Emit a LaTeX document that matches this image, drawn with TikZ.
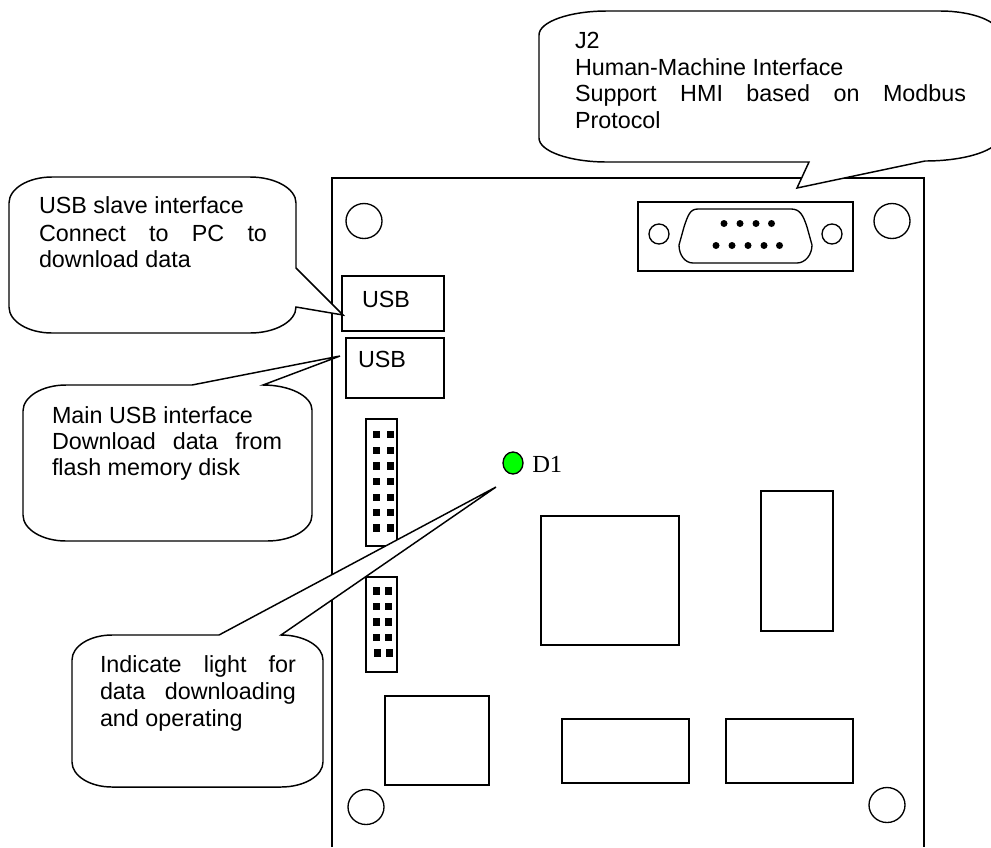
\documentclass[tikz,border=0pt]{standalone}
\usepackage{fontspec}
\setmainfont{Liberation Sans}
\newfontfamily\serifd{Liberation Serif}
\tikzset{x=0.75pt,y=-0.75pt,
 part/.style={draw=black,line width=1pt,fill=white},
 callout/.style={draw=black,line width=1.1pt,fill=white,line join=miter},
 label/.style={anchor=base west,inner sep=0pt,outer sep=0pt,font=\fontsize{17.5}{20}\selectfont},
 pin/.style={fill=black},
}
\newcommand{\jl}[2]{\makebox[#1][s]{#2}}
\newcommand{\pins}[3]{\foreach \yy in {#3} {\fill[pin] (#1-3.5,\yy-3.5) rectangle +(7.5,7.5); \fill[pin] (#2-3.5,\yy-3.5) rectangle +(7.5,7.5);}}
\begin{document}
\begin{tikzpicture}
\useasboundingbox (0,0) rectangle (991,847);
\clip (0,0) rectangle (991,847);
\fill[white] (0,0) rectangle (991,847);
% board
\draw[line width=1.1pt] (332,847) -- (332,178) -- (924,178) -- (924,847);
% mounting holes
\draw[part] (364,221) ellipse [x radius=18,y radius=17.5];
\draw[part] (892,221) ellipse [x radius=18,y radius=17.5];
\draw[part] (366,807) ellipse [x radius=18,y radius=17.5];
\draw[part] (887,805) ellipse [x radius=18,y radius=17.5];
% connector
\draw[part] (638,202) rectangle (853,271);
\draw[part] (659,234) circle [radius=10];
\draw[part] (832,234) circle [radius=10];
\draw[part] (698,209) -- (791,209) .. controls (800,209) and (803,215) .. (807,227) -- (812,245)
  .. controls (812,255) and (805,263) .. (797,263) -- (693,263) .. controls (685,263) and (679,255) .. (679,245) -- (684,227) .. controls (688,215) and (690,209) .. (698,209) -- cycle;
\foreach \xx in {724,740,756,771.5} \fill (\xx,223.5) circle [radius=3.5];
\foreach \xx in {716,732,748,764,779.5} \fill (\xx,245.5) circle [radius=3.5];
% USB
\draw[part] (342,276) rectangle (444,331);
\draw[part] (346,338) rectangle (444,398);
\node[label] (usbAt) at (362,307) {USB};
\node[label] (usbBt) at (358,367) {USB};
% headers
\draw[part] (366,419) rectangle (397,546);
\pins{376}{390}{434.3,450,465.7,481,497,512.3,527.7}
\draw[part] (366,577) rectangle (397,672);
\pins{376}{388}{590.7,606,621.7,637.3}
\fill[pin] (373.5,649.2) rectangle +(7.5,7.5); \fill[pin] (385.5,649.2) rectangle +(7.5,7.5);
% chips
\draw[part] (385,696) rectangle (489,785);
\draw[part] (541,516) rectangle (679,645);
\draw[part] (761,491) rectangle (833,631);
\draw[part] (562,719) rectangle (689,783);
\draw[part] (726,719) rectangle (853,783);
% LED
\draw[line width=1pt,fill={rgb,255:red,0;green,255;blue,0}] (513,463) ellipse [x radius=10,y radius=11];
\node[anchor=base west,inner sep=0pt,font=\serifd\fontsize{18.4}{20}\selectfont] (d1) at (532,472) {D1};
% callouts
\draw[callout] (607,11) -- (940,11) arc[start angle=-90,delta angle=90,x radius=60,y radius=24] -- (1000,136)
  arc[start angle=0,delta angle=90,x radius=75,y radius=25] -- (797,188) -- (809,162) -- (607,162)
  arc[start angle=90,delta angle=90,x radius=68,y radius=24] -- (539,35)
  arc[start angle=180,delta angle=90,x radius=68,y radius=24] -- cycle;
\node[label] (j2a) at (575,48) {J2};
\node[label] (j2b) at (575,75) {Human-Machine Interface};
\node[label] (j2c) at (575,101) {\jl{293.3pt}{Support HMI based on Modbus}};
\node[label] (j2d) at (575,128) {Protocol};

\draw[callout] (52,177) -- (250,177) arc[start angle=-90,delta angle=90,x radius=46,y radius=26] -- (296,268) -- (343,315) -- (296,307)
  arc[start angle=0,delta angle=90,x radius=46,y radius=26] -- (52,333)
  arc[start angle=90,delta angle=90,x radius=43,y radius=26] -- (9,203)
  arc[start angle=180,delta angle=90,x radius=43,y radius=26] -- cycle;
\node[label] (ua) at (39,213) {USB slave interface};
\node[label] (ub) at (39,241) {\jl{171pt}{Connect to PC to}};
\node[label] (uc) at (39,267) {download data};

\draw[callout] (66,385) -- (192,385) -- (340,356) -- (263,385) arc[start angle=-90,delta angle=90,x radius=49,y radius=25] -- (312,515)
  arc[start angle=0,delta angle=90,x radius=45,y radius=26] -- (66,541)
  arc[start angle=90,delta angle=90,x radius=43,y radius=26] -- (23,411)
  arc[start angle=180,delta angle=90,x radius=43,y radius=26] -- cycle;
\node[label] (ma) at (52,423) {Main USB interface};
\node[label] (mb) at (52,449) {\jl{172.5pt}{Download data from}};
\node[label] (mc) at (52,475) {flash memory disk};

\draw[callout] (112,635) -- (219,635) -- (496,487) -- (281,635) arc[start angle=-90,delta angle=90,x radius=42,y radius=25] -- (323,762)
  arc[start angle=0,delta angle=90,x radius=42,y radius=25] -- (112,787)
  arc[start angle=90,delta angle=90,x radius=40,y radius=25] -- (72,660)
  arc[start angle=180,delta angle=90,x radius=40,y radius=25] -- cycle;
\node[label] (ia) at (100,672) {\jl{147pt}{Indicate light for}};
\node[label] (ib) at (100,699) {\jl{147pt}{data downloading}};
\node[label] (ic) at (100,726) {and operating};
\end{tikzpicture}
\end{document}
